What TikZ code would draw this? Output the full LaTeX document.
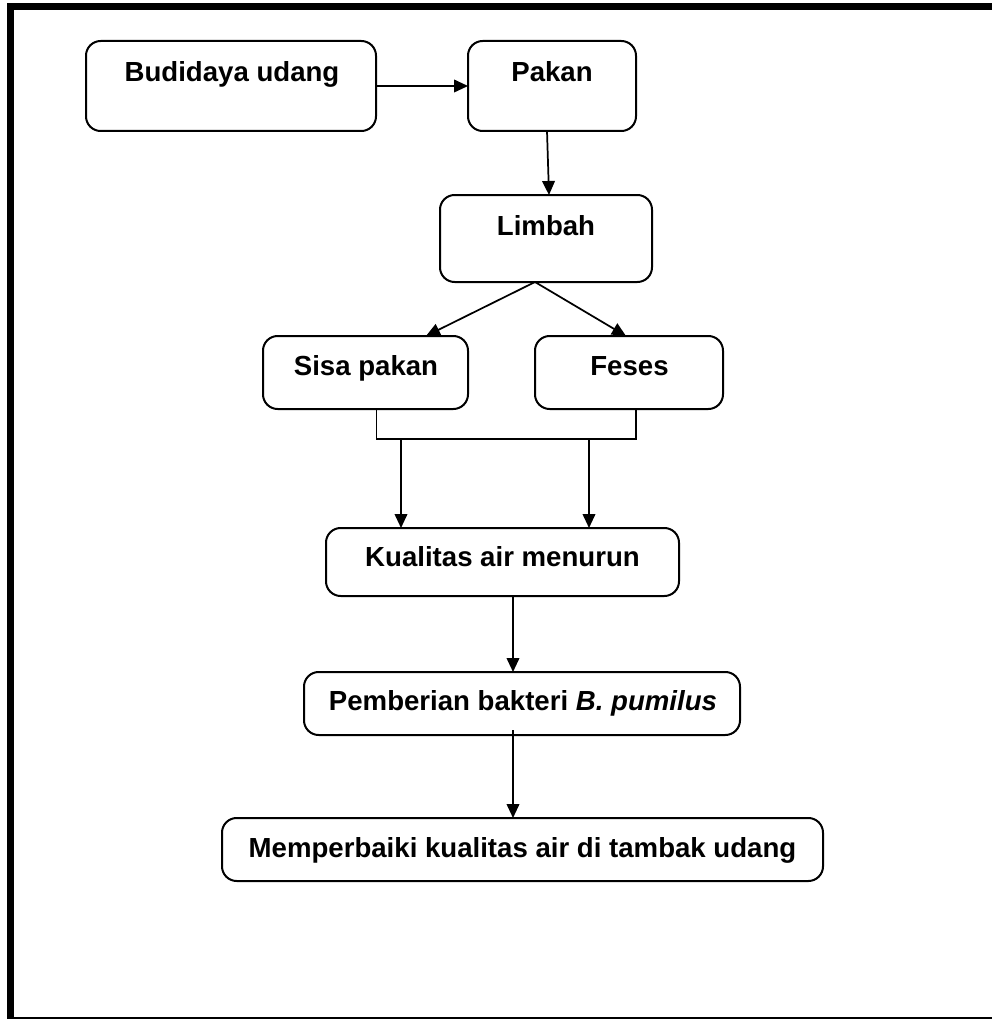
\documentclass[tikz,border=0pt]{standalone}
\usepackage{fontspec}
\setmainfont{Liberation Sans}
\usetikzlibrary{arrows.meta,calc}
\begin{document}
\begin{tikzpicture}[x=0.75pt,y=-0.75pt,
  box/.style={draw, line width=1.5pt, rounded corners=11pt, inner sep=0pt, outer sep=0pt},
  lbl/.style={font=\fontsize{20.7}{24}\selectfont\bfseries, inner sep=0pt, anchor=base},
  arr/.style={line width=1.3pt, -{Triangle[length=10.5pt,width=9.5pt]}},
  conn/.style={line width=1.3pt},
  framethick/.style={line width=5.25pt},
  framethin/.style={line width=1.5pt}]
\useasboundingbox (0,0) rectangle (992,1020);
\fill[white] (0,0) rectangle (992,1020);
% frame
\coordinate (ftl) at (7,6.5);
\coordinate (ftr) at (992,6.5);
\coordinate (fbl) at (10.5,1018);
\coordinate (fbr) at (992,1018);
\draw[framethick] (ftl) -- (ftr);
\draw[framethick] (10.5,3.5) -- (fbl);
\draw[framethin] (7,1018) -- (fbr);
% boxes
\node[box, minimum width=217.5pt, minimum height=67.5pt] (bud) at (231,86) {};
\node[box, minimum width=126pt, minimum height=67.5pt] (pak) at (552,86) {};
\node[box, minimum width=159pt, minimum height=65.25pt] (lim) at (546,238.5) {};
\node[box, minimum width=153.75pt, minimum height=54.75pt] (sis) at (365.5,372.5) {};
\node[box, minimum width=141pt, minimum height=54.75pt] (fes) at (629,372.5) {};
\node[box, minimum width=264.75pt, minimum height=51pt] (kua) at (502.5,562) {};
\node[box, minimum width=327pt, minimum height=47.25pt] (pem) at (522,703.5) {};
\node[box, minimum width=450.75pt, minimum height=47.25pt] (mem) at (522.5,849.5) {};
% texts
\node[lbl] (budt) at (232,82) {Budidaya udang};
\node[lbl] (pakt) at (552,82) {Pakan};
\node[lbl] (limt) at (546,235) {Limbah};
\node[lbl] (sist) at (366,375) {Sisa pakan};
\node[lbl] (fest) at (629.5,375) {Feses};
\node[lbl] (kuat) at (502.5,566) {Kualitas air menurun};
\node[lbl] (pemt) at (523,710) {Pemberian bakteri \textit{B. pumilus}};
\node[lbl] (memt) at (522.5,857) {Memperbaiki kualitas air di tambak udang};
% connectors
\draw[arr] (bud.east) -- (pak.west);
\draw[arr] ($(pak.south)+(-5,0)$) -- ($(lim.north)+(3,0)$);
\coordinate (apex) at ($(lim.south)+(-11,0)$);
\draw[arr] (apex) -- ($(sis.north)+(60.5,0)$);
\draw[arr] (apex) -- ($(fes.north)+(-3,0)$);
\coordinate (jl) at ($(sis.south)+(11,30)$);
\coordinate (jr) at ($(fes.south)+(7,30)$);
\draw[conn] ($(sis.south)+(11,0)$) -- (jl) -- (jr) -- ($(fes.south)+(7,0)$);
\coordinate (dl) at ($(kua.north)+(-101.5,-89)$);
\coordinate (dr) at ($(kua.north)+(86.5,-89)$);
\draw[arr] (dl) -- ($(kua.north)+(-101.5,0)$);
\draw[arr] (dr) -- ($(kua.north)+(86.5,0)$);
\draw[arr] ($(kua.south)+(10.5,0)$) -- ($(pem.north)+(-9,0)$);
\draw[arr] ($(pem.south)+(-9,-5)$) -- ($(mem.north)+(-9.5,0)$);
\end{tikzpicture}
\end{document}
